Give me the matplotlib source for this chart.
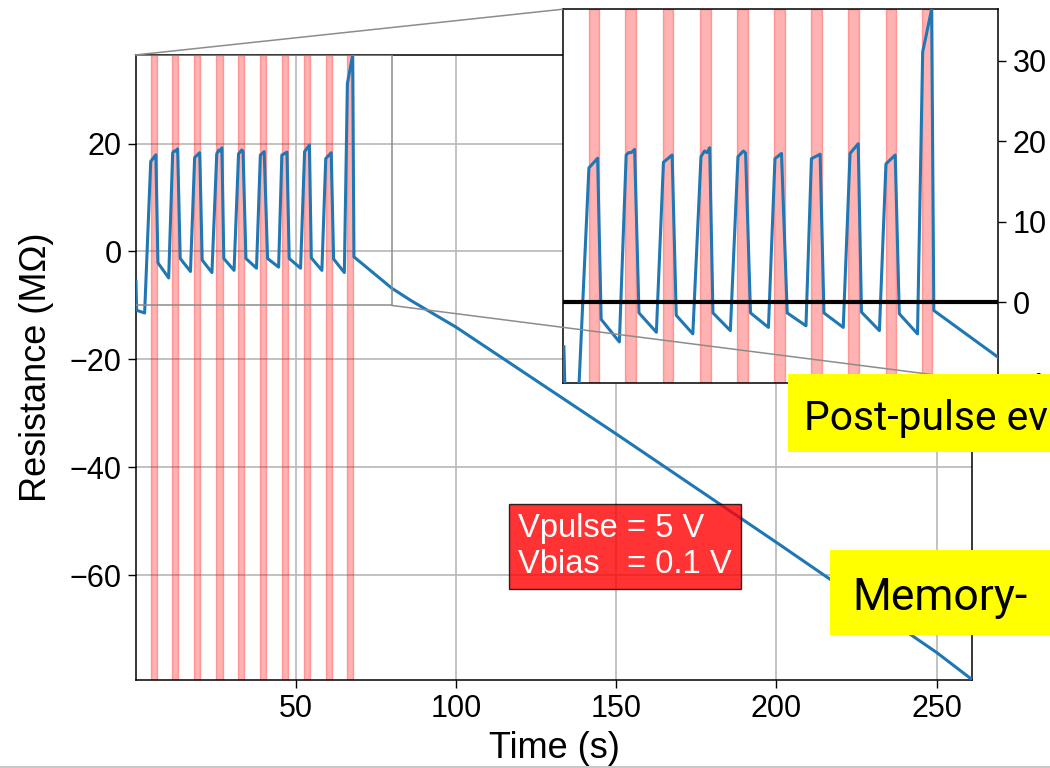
import matplotlib
matplotlib.use('Agg')
import matplotlib.pyplot as plt
from matplotlib.patches import Rectangle, ConnectionPatch
from matplotlib.lines import Line2D

plt.rcParams['font.family'] = ['Liberation Sans', 'DejaVu Sans']

# --- data ---
time_s = [0.2, 0.4, 2.9, 4.8, 5.6, 6.4, 7.05, 10.4,
          11.65, 12.1, 12.6, 13.2, 14.0, 17.2,
          18.5, 20.1, 20.85, 23.9,
          25.4, 26.05, 26.5, 27.0, 27.6, 30.8,
          32.2, 33.2, 33.6, 34.5, 37.8,
          39.0, 40.2, 41.25, 44.7,
          45.7, 47.3, 48.0, 51.55,
          52.8, 54.3, 54.9, 58.2,
          59.4, 61.1, 61.85, 65.2,
          66.15, 67.8, 68.2,
          80.0, 86.0, 100.0, 150.0, 200.0, 250.0, 261.0]
resistance = [-5.5, -10.9, -11.4, 16.7, 17.3, 17.9, -2.1, -4.9,
              18.3, 18.6, 18.6, 19.0, -1.3, -3.7,
              17.4, 18.3, -1.6, -3.9,
              18.1, 18.8, 18.6, 19.2, -1.3, -3.5,
              18.1, 18.8, 18.55, -1.3, -3.1,
              17.85, 18.5, -1.3, -2.9,
              17.85, 18.4, -1.3, -3.1,
              18.5, 19.7, -1.2, -3.5,
              17.2, 18.3, -1.4, -3.9,
              31.1, 36.4, -1.0,
              -6.8, -9.1, -14.0, -33.8, -53.9, -74.3, -79.3]

pulse_start = [4.8, 11.5, 18.4, 25.3, 32.1, 38.9, 45.7, 52.5, 59.4, 66.0]
pulse_width = 1.9

main_xticks = [50, 100, 150, 200, 250]
main_yticks = [-60, -40, -20, 0, 20]
inset_xlim = (0, 80)
inset_ymin = -10
inset_yticks = [-10, 0, 10, 20, 30]

box_text = 'Vpulse = 5 V\nVbias   = 0.1 V'
note_top = 'Post-pulse ev'
note_bottom = 'Memory-'

line_color = '#1f77b4'

fig = plt.figure(figsize=(10.5, 7.68), dpi=100)
ax = fig.add_axes([0.1295, 0.1152, 0.7962, 0.8132])

# --- main plot ---
ax.plot(time_s, resistance, color=line_color, lw=2.2, zorder=3)
for s in pulse_start:
    ax.axvspan(s, s + pulse_width, color='red', alpha=0.3, lw=1, zorder=2)
ax.set_xlim(time_s[0], time_s[-1])
ax.set_ylim(min(resistance), max(resistance))
ax.set_xticks(main_xticks)
ax.set_yticks(main_yticks)
ax.grid(True, color='#b8b8b8', lw=1.2)
ax.tick_params(labelsize=22, length=5.5, width=1, pad=5)
for sp in ax.spines.values():
    sp.set_linewidth(1.1)
ax.set_xlabel('Time (s)', fontsize=26, labelpad=5)
ax.set_ylabel('Resistance (MΩ)', fontsize=26, labelpad=11)

ax.text(0.457, 0.266, box_text, transform=ax.transAxes, fontsize=23.5,
        color='white', ha='left', va='top', zorder=6,
        bbox=dict(boxstyle='square,pad=0.28', facecolor='red',
                  edgecolor='black', alpha=0.8))

# zoom rectangle on the main axes
rect_top = max(resistance)
ax.add_patch(Rectangle((inset_xlim[0], inset_ymin), inset_xlim[1] - inset_xlim[0],
                       rect_top - inset_ymin, fill=False, edgecolor='0.55',
                       lw=1.1, zorder=4))

# --- inset ---
axins = fig.add_axes([0.536, 0.5013, 0.4145, 0.4867])
axins.plot(time_s, resistance, color=line_color, lw=2.2, zorder=3)
for s in pulse_start:
    axins.axvspan(s, s + pulse_width, color='red', alpha=0.3, lw=1, zorder=2)
axins.axhline(0, color='black', lw=3, zorder=4)
axins.set_xlim(*inset_xlim)
axins.set_ylim(inset_ymin, rect_top)
axins.set_xticks([])
axins.set_yticks(inset_yticks)
axins.yaxis.tick_right()
axins.tick_params(labelsize=22, length=5.5, width=1, pad=5)
for sp in axins.spines.values():
    sp.set_linewidth(1.1)

# connector lines from the zoom box to the inset
for xy_a, xy_b in [((inset_xlim[0], rect_top), (0, 1)),
                   ((inset_xlim[1], inset_ymin), (1, 0))]:
    con = ConnectionPatch(xyA=xy_a, coordsA=ax.transData,
                          xyB=xy_b, coordsB=axins.transAxes,
                          color='0.55', lw=1.1, zorder=5)
    fig.add_artist(con)

# --- yellow slide callouts (cut at the figure edge) ---
fig.add_artist(Rectangle((788 / 1050, 1 - 452 / 768), 0.3, 78 / 768,
                         transform=fig.transFigure, facecolor='#ffff00',
                         edgecolor='none', zorder=6))
fig.text(804 / 1050, 1 - 430 / 768, note_top, fontsize=29.3,
         family='Roboto', color='black', ha='left', va='baseline', zorder=7)
fig.add_artist(Rectangle((830 / 1050, 1 - 635 / 768), 0.3, 85 / 768,
                         transform=fig.transFigure, facecolor='#ffff00',
                         edgecolor='none', zorder=6))
fig.text(852 / 1050, 1 - 610 / 768, note_bottom, fontsize=32,
         family='Roboto', color='black', ha='left', va='baseline', zorder=7)

fig.add_artist(Line2D([0, 1], [0.6 / 768, 0.6 / 768], transform=fig.transFigure,
                      color='#c8c8c8', lw=1.5))

fig.savefig('out.png', dpi=100)
